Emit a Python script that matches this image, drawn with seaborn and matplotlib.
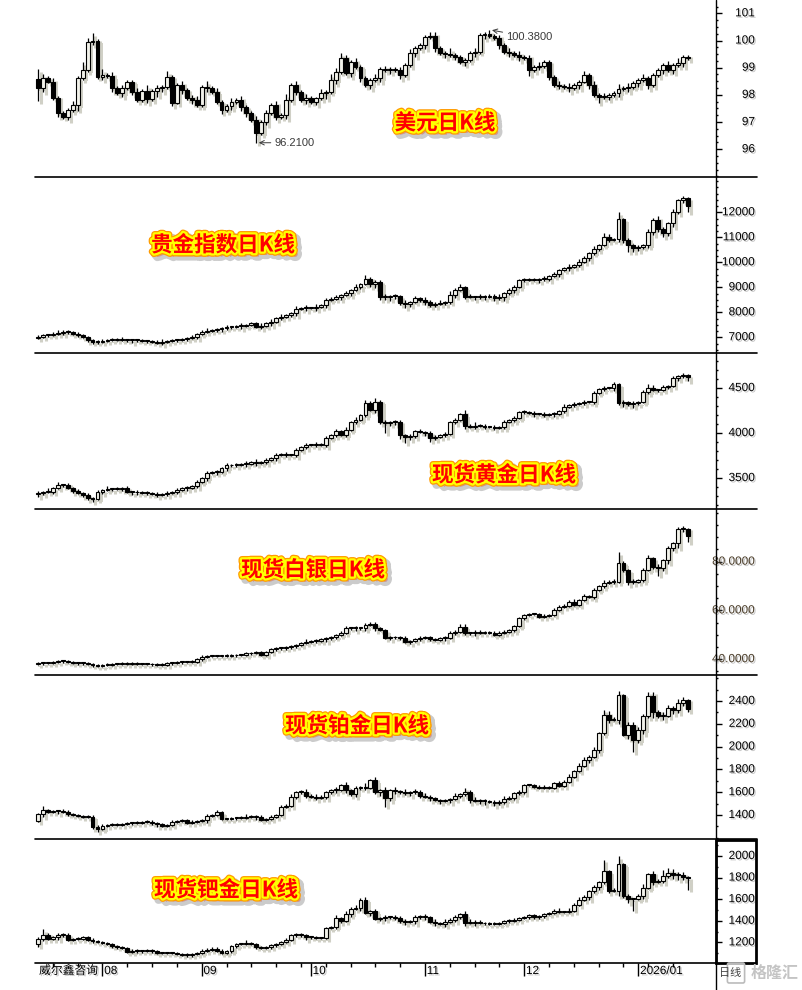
import numpy as np
import pandas as pd
import seaborn as sns
import matplotlib
matplotlib.use("Agg")
import matplotlib.pyplot as plt
from matplotlib import patheffects as pe
from matplotlib.lines import Line2D
from matplotlib.patches import Rectangle, FancyBboxPatch
from matplotlib.ticker import MultipleLocator
from matplotlib.transforms import ScaledTranslation, blended_transform_factory

sns.set_style("white")
plt.rcParams["font.family"] = ["Liberation Sans", "Noto Sans CJK SC", "DejaVu Sans"]

# ---- daily closes (open = previous close) ----
usd_open0 = 98.60
usd_close = [
    98.25, 98.61, 98.49, 97.90, 97.32, 97.20, 97.45, 97.63, 98.61, 98.92,
    99.96, 100.00, 98.67, 98.73, 98.70, 98.24, 98.06, 98.24, 98.49, 98.12,
    97.81, 98.15, 97.84, 98.15, 98.24, 98.30, 98.67, 97.72, 98.36, 98.18,
    97.87, 97.81, 97.63, 98.30, 98.24, 98.12, 97.75, 97.45, 97.60, 97.75,
    97.81, 97.54, 97.32, 97.08, 96.59, 97.02, 97.32, 97.63, 97.20, 97.25,
    97.81, 98.36, 98.12, 97.81, 97.90, 97.75, 97.87, 98.06, 98.12, 98.55,
    98.85, 99.34, 98.79, 99.22, 99.04, 98.61, 98.36, 98.55, 98.61, 98.94,
    98.92, 98.94, 98.90, 98.73, 99.10, 99.53, 99.71, 99.83, 100.14, 100.18,
    99.71, 99.53, 99.50, 99.47, 99.41, 99.22, 99.28, 99.53, 99.59, 100.20,
    100.24, 100.17, 100.08, 99.83, 99.59, 99.53, 99.47, 99.38, 99.34, 98.92,
    99.04, 99.06, 99.22, 98.67, 98.36, 98.34, 98.30, 98.24, 98.36, 98.49,
    98.73, 98.36, 98.00, 97.92, 97.94, 98.00, 98.06, 98.20, 98.24, 98.30,
    98.43, 98.55, 98.61, 98.36, 98.73, 98.92, 99.10, 98.92, 99.10, 99.16,
    99.41, 99.35,
]
usd_up = "5212111214 2413121211 2131213112 1221312112 1211212121 3121211213 2321211121 2112121112 2113111121 1212121212 1211121211 2121211312 1121111213 11"
usd_dn = "7211212131 1212121212 1121321212 1211211212 1221512121 2121212131 2112121212 1212112121 2121212121 2112121213 1212121212 1213121212 1212112121 21"

index_open0 = 6990
index_close = [
    7030, 7080, 7100, 7150, 7180, 7227, 7200, 7130, 7080, 7020,
    6900, 6800, 6830, 6870, 6890, 6910, 6920, 6900, 6880, 6900,
    6880, 6860, 6840, 6830, 6790, 6830, 6860, 6880, 6900, 6920,
    6980, 7030, 7130, 7230, 7270, 7280, 7330, 7360, 7400, 7420,
    7440, 7460, 7500, 7560, 7430, 7460, 7560, 7630, 7760, 7830,
    7880, 7960, 8150, 8160, 8180, 8170, 8230, 8290, 8490, 8550,
    8600, 8700, 8760, 8890, 9030, 9130, 9330, 9120, 9200, 8600,
    8620, 8650, 8640, 8380, 8330, 8420, 8560, 8500, 8430, 8300,
    8350, 8380, 8400, 8690, 8890, 9020, 8630, 8620, 8600, 8630,
    8610, 8640, 8560, 8620, 8760, 8890, 9030, 9300, 9330, 9310,
    9290, 9320, 9350, 9450, 9530, 9690, 9760, 9830, 9900, 10030,
    10160, 10360, 10550, 10700, 11030, 10900, 10920, 11720, 10890, 10700,
    10560, 10600, 10690, 11230, 11690, 11320, 11160, 11560, 12030, 12490,
    12560, 12250,
]
index_up = "1111211121 1111111211 1111121111 1111211121 1211121212 1121212121 2121213222 2121212121 1213221212 1222121111 1121211212 2121321612 1212232121 21"
index_dn = "1111121111 2111111112 1111121111 1121111211 1211121211 1121212121 1212121232 2322321232 2121212121 2121312121 1212121212 1212121226 3212323232 25"

gold_open0 = 3320
gold_close = [
    3330, 3348, 3350, 3385, 3422, 3425, 3393, 3356, 3330, 3311,
    3281, 3267, 3348, 3367, 3375, 3378, 3380, 3385, 3341, 3345,
    3340, 3335, 3330, 3320, 3311, 3320, 3335, 3348, 3367, 3385,
    3393, 3415, 3459, 3496, 3552, 3563, 3570, 3607, 3640, 3644,
    3648, 3652, 3660, 3681, 3663, 3681, 3700, 3718, 3755, 3763,
    3755, 3758, 3811, 3848, 3867, 3870, 3874, 3867, 3941, 3978,
    4022, 3978, 4033, 4126, 4144, 4200, 4330, 4256, 4348, 4126,
    4107, 4126, 4120, 3978, 3959, 3970, 4022, 4015, 3996, 3941,
    3959, 3980, 3985, 4126, 4144, 4207, 4081, 4070, 4081, 4075,
    4070, 4065, 4059, 4070, 4126, 4144, 4163, 4230, 4237, 4218,
    4207, 4215, 4200, 4210, 4207, 4244, 4293, 4311, 4319, 4330,
    4341, 4341, 4441, 4489, 4496, 4496, 4541, 4330, 4348, 4319,
    4330, 4341, 4452, 4504, 4478, 4478, 4515, 4526, 4607, 4637,
    4644, 4626,
]
gold_up = "2131312121 2121312121 2121212121 2121212121 2121312121 2121212121 2131313232 2122121212 2121214232 2121212121 2121212121 2121212121 2123212121 21"
gold_dn = "3212121212 2312121212 2121212121 2121212121 2121212121 2121212121 2121212132 9234632123 2121213121 2121212121 2121212121 2121212232 3212121212 24"

silver_open0 = 38.10
silver_close = [
    38.26, 38.40, 38.53, 38.94, 39.21, 39.10, 38.94, 38.53, 38.30, 38.26,
    37.98, 37.43, 37.30, 37.57, 37.80, 37.98, 38.10, 38.20, 38.26, 38.20,
    38.10, 37.98, 37.90, 37.84, 37.57, 37.80, 38.26, 38.50, 38.67, 38.80,
    38.94, 39.00, 39.90, 41.00, 41.20, 41.27, 41.30, 41.40, 41.45, 41.50,
    41.60, 41.68, 42.36, 42.64, 43.05, 41.68, 43.05, 44.00, 44.42, 44.42,
    44.83, 45.20, 45.78, 46.74, 47.15, 47.30, 47.43, 48.11, 48.52, 48.93,
    49.89, 50.85, 52.63, 52.70, 52.63, 52.70, 54.00, 54.27, 52.63, 51.95,
    48.80, 48.93, 48.90, 48.80, 47.15, 47.43, 48.11, 48.80, 48.93, 48.11,
    47.84, 48.52, 48.80, 50.58, 51.26, 53.31, 50.58, 50.60, 51.26, 50.85,
    50.90, 50.85, 49.89, 50.85, 51.26, 51.95, 53.59, 56.74, 58.11, 58.52,
    58.52, 57.42, 57.70, 58.11, 60.16, 61.53, 61.80, 63.58, 62.21, 64.27,
    65.91, 65.70, 68.38, 70.02, 71.39, 71.80, 71.80, 79.33, 76.59, 71.80,
    71.80, 72.48, 76.59, 81.38, 77.96, 77.27, 80.70, 85.49, 87.54, 93.29,
    93.43, 90.55,
]
silver_up = "1111111111 1111111111 1111111111 1111111111 1111111111 1111212111 1121212221 1111111111 1112122111 1111111111 1121212121 2121212921 2123121212 21"
silver_dn = "1111111111 1111111111 1111111111 1111111111 1111111111 1111111121 1111212121 1212121111 1121111121 1111112111 1111111111 1121212123 2121262324 25"

plat_open0 = 1350
plat_close = [
    1406, 1444, 1429, 1435, 1433, 1429, 1406, 1400, 1392, 1385,
    1385, 1298, 1277, 1306, 1312, 1318, 1315, 1322, 1327, 1330,
    1333, 1338, 1341, 1327, 1318, 1306, 1312, 1341, 1347, 1356,
    1333, 1341, 1347, 1356, 1394, 1400, 1423, 1365, 1365, 1371,
    1374, 1377, 1385, 1383, 1385, 1356, 1365, 1385, 1400, 1473,
    1482, 1561, 1599, 1605, 1570, 1561, 1552, 1561, 1599, 1619,
    1619, 1663, 1619, 1581, 1634, 1643, 1640, 1707, 1605, 1619,
    1546, 1619, 1610, 1605, 1590, 1599, 1605, 1570, 1561, 1546,
    1531, 1523, 1531, 1540, 1570, 1581, 1605, 1531, 1523, 1531,
    1523, 1517, 1502, 1517, 1540, 1552, 1590, 1605, 1663, 1663,
    1648, 1640, 1642, 1640, 1678, 1657, 1692, 1736, 1786, 1833,
    1882, 1912, 1970, 2116, 2277, 2233, 2235, 2453, 2102, 2189,
    2058, 2146, 2271, 2447, 2300, 2271, 2271, 2341, 2321, 2379,
    2409, 2330,
]
plat_up = "1311121111 1111111111 1111111111 1111112111 1121111111 1211212111 2121213121 2121212121 1111213121 1111211111 1121121212 2121432312 2213323213 21"
plat_dn = "1211211111 1221111111 1111211111 1111211111 1111211111 1121212121 2121212123 6222121212 1212121212 3121212121 1111111111 1212121313 9232423132 22"

pall_open0 = 1185
pall_close = [
    1235, 1266, 1235, 1247, 1266, 1272, 1225, 1230, 1235, 1247,
    1225, 1210, 1204, 1195, 1185, 1164, 1155, 1148, 1111, 1124,
    1117, 1120, 1124, 1117, 1102, 1102, 1102, 1100, 1093, 1087,
    1080, 1093, 1102, 1124, 1133, 1142, 1124, 1102, 1117, 1164,
    1185, 1185, 1195, 1185, 1155, 1148, 1155, 1173, 1185, 1204,
    1225, 1266, 1272, 1266, 1247, 1247, 1240, 1240, 1333, 1340,
    1426, 1401, 1463, 1512, 1519, 1596, 1472, 1488, 1420, 1426,
    1432, 1432, 1430, 1395, 1389, 1395, 1432, 1441, 1432, 1389,
    1380, 1370, 1389, 1411, 1432, 1463, 1380, 1380, 1382, 1378,
    1375, 1370, 1372, 1380, 1395, 1401, 1411, 1426, 1432, 1451,
    1432, 1441, 1463, 1472, 1494, 1482, 1482, 1494, 1550, 1596,
    1617, 1673, 1710, 1756, 1858, 1679, 1679, 1926, 1627, 1602,
    1602, 1627, 1704, 1833, 1759, 1772, 1812, 1843, 1827, 1827,
    1802, 1796,
]
pall_up = "1521211111 1111111111 1111111111 1111111111 1121111111 1111111111 2121212121 2121212121 2121212322 1111111111 1111121212 2121912612 1231215432 21"
pall_dn = "2211211111 1111111111 1111111111 1111111111 1111111111 1111211111 1212121212 2121212121 2121212121 1111111111 1111111111 1212121413 9121212134 29"

usd_ticks = [96, 97, 98, 99, 100, 101]
index_ticks = [7000, 8000, 9000, 10000, 11000, 12000]
gold_ticks = [3500, 4000, 4500]
silver_ticks = [40, 60, 80]
plat_ticks = [1400, 1600, 1800, 2000, 2200, 2400]
pall_ticks = [1200, 1400, 1600, 1800, 2000]

month_pos = [13, 33, 55, 78, 98, 121]
month_labels = ["08", "09", "10", "11", "12", "2026/01"]


def digits(s):
    return np.array([int(ch) for ch in s.replace(" ", "")])


def make_ohlc(open0, closes, up, dn, unit):
    close = np.array(closes, dtype=float)
    open_ = np.r_[open0, close[:-1]]
    high = np.maximum(open_, close) + digits(up) * unit
    low = np.minimum(open_, close) - digits(dn) * unit
    return pd.DataFrame({"open": open_, "high": high, "low": low, "close": close})


usd = make_ohlc(usd_open0, usd_close, usd_up, usd_dn, 0.07)
pmi = make_ohlc(index_open0, index_close, index_up, index_dn, 50)
gold = make_ohlc(gold_open0, gold_close, gold_up, gold_dn, 12)
silver = make_ohlc(silver_open0, silver_close, silver_up, silver_dn, 0.5)
plat = make_ohlc(plat_open0, plat_close, plat_up, plat_dn, 12)
pall = make_ohlc(pall_open0, pall_close, pall_up, pall_dn, 12)

W, H = 803, 990
X0, X1 = 35, 716
fig = plt.figure(figsize=(W / 100, H / 100), dpi=100)
fig.patch.set_facecolor("white")


def fx(px):
    return px / W


def fy(py):
    return 1 - py / H


txt_shadow = [pe.SimplePatchShadow(offset=(1, -1), shadow_rgbFace="#8a8a8a", alpha=0.5), pe.Normal()]
title_fx = [
    pe.Stroke(linewidth=6, foreground="#555555", alpha=0.3, offset=(2.5, -2.5)),
    pe.Stroke(linewidth=5, foreground="#ff9a00"),
    pe.Stroke(linewidth=3.2, foreground="#ffff00"),
    pe.Normal(),
]


def draw_candles(ax, df, ylim, panel_px):
    x = np.arange(len(df))
    o, h, l, c = (df[k].values for k in ("open", "high", "low", "close"))
    one_px = (ylim[1] - ylim[0]) / panel_px
    bottom = np.minimum(o, c)
    height = np.maximum(np.abs(c - o), one_px * 0.9)
    rise = c >= o
    sh = ax.transData + ScaledTranslation(2 / 72, -2 / 72, fig.dpi_scale_trans)
    shade = "#d0d0c6"
    ax.vlines(x, l, h, color=shade, lw=2.2, transform=sh, zorder=1)
    ax.bar(x, height, bottom=bottom, width=1.0, color=shade, lw=0, transform=sh, zorder=1)
    ax.vlines(x, l, h, color="black", lw=0.9, zorder=2)
    ax.bar(x[rise], height[rise], bottom=bottom[rise], width=0.78,
           color="#f2f2ea", edgecolor="black", lw=0.8, zorder=3)
    ax.bar(x[~rise], height[~rise], bottom=bottom[~rise], width=0.78,
           color="black", edgecolor="black", lw=0.8, zorder=3)


panels = [
    dict(df=usd, title="美元日K线", top=0, bottom=177, ylim=(94.98, 101.49), ticks=usd_ticks,
         fmt="{:.0f}", minor=0.25, tpos=(445, 123), color="black"),
    dict(df=pmi, title="贵金指数日K线", top=177, bottom=353, ylim=(6372, 13412), ticks=index_ticks,
         fmt="{:.0f}", minor=250, tpos=(223, 245), color="black"),
    dict(df=gold, title="现货黄金日K线", top=353, bottom=509, ylim=(3156, 4889), ticks=gold_ticks,
         fmt="{:.0f}", minor=100, tpos=(504, 475), color="black"),
    dict(df=silver, title="现货白银日K线", top=509, bottom=675, ylim=(33.5, 101.6), ticks=silver_ticks,
         fmt="{:.4f}", minor=5, tpos=(313, 570), color="#4a3c28"),
    dict(df=plat, title="现货铂金日K线", top=675, bottom=839, ylim=(1189.5, 2628), ticks=plat_ticks,
         fmt="{:.0f}", minor=100, tpos=(357, 726), color="black"),
    dict(df=pall, title="现货钯金日K线", top=839, bottom=963, ylim=(1009, 2157), ticks=pall_ticks,
         fmt="{:.0f}", minor=100, tpos=(226, 890), color="black"),
]

axes = []
for p in panels:
    top, bot = p["top"], p["bottom"]
    ax = fig.add_axes([fx(X0), fy(bot), fx(X1) - fx(X0), (bot - top) / H])
    ax.set_facecolor("none")
    ax.set_xlim(-0.6, 136.65)
    ax.set_ylim(*p["ylim"])
    for s in ax.spines.values():
        s.set_visible(False)
    draw_candles(ax, p["df"], p["ylim"], bot - top)

    ax.yaxis.tick_right()
    ax.set_yticks(p["ticks"])
    ax.yaxis.set_minor_locator(MultipleLocator(p["minor"]))
    ax.tick_params(axis="y", which="major", direction="out", length=4, width=1, color="black",
                   right=True, left=False, labelright=False, labelleft=False)
    ax.tick_params(axis="y", which="minor", direction="out", length=1.2, width=1, color="black",
                   right=True, left=False)
    ax.set_xticks([])

    ytr = blended_transform_factory(fig.transFigure, ax.transData)
    for t in p["ticks"]:
        ax.text(fx(755), t, p["fmt"].format(t), transform=ytr, ha="right", va="center",
                fontsize=8.5, color=p["color"], path_effects=txt_shadow, clip_on=False)

    fig.text(fx(p["tpos"][0]), fy(p["tpos"][1]), p["title"], ha="center", va="center",
             fontsize=15.5, fontweight="bold", color="#ff0000",
             family=["Noto Sans CJK SC", "DejaVu Sans"], path_effects=title_fx, zorder=10)
    axes.append(ax)

# extreme labels on the dollar panel
ax1 = axes[0]
lo_i = int(usd["low"].idxmin())
hi_i = int(usd["high"].idxmax())
arrow = dict(arrowstyle="->", lw=0.7, color="#3a3a3a", shrinkA=0, shrinkB=0)
ax1.annotate("96.2100", xy=(lo_i + 0.5, usd["low"][lo_i]), xytext=(11, 0), textcoords="offset points",
             ha="left", va="center", fontsize=8, color="#3a3a3a", arrowprops=arrow)
ax1.annotate("100.3800", xy=(hi_i + 0.5, usd["high"][hi_i]), xytext=(10, -5), textcoords="offset points",
             ha="left", va="center", fontsize=8, color="#3a3a3a", arrowprops=arrow)

# bottom date axis
ax6 = axes[-1]
ax6.set_xticks(month_pos)
ax6.set_xticks(np.arange(3, 132, 5), minor=True)
ax6.tick_params(axis="x", which="major", direction="out", length=9, width=1, color="black",
                bottom=True, labelbottom=False)
ax6.tick_params(axis="x", which="minor", direction="out", length=3, width=1, color="black", bottom=True)
xtr = blended_transform_factory(ax6.transData, fig.transFigure)
for pos, lab in zip(month_pos, month_labels):
    ax6.text(pos + 0.35, fy(971), lab, transform=xtr, ha="left", va="center", fontsize=8.5,
             color="black", path_effects=txt_shadow, clip_on=False)

# frame lines
for y in (177, 353, 509, 675, 839):
    fig.add_artist(Line2D([fx(X0), fx(757)], [fy(y), fy(y)], color="black", lw=1.2))
fig.add_artist(Line2D([fx(X0), fx(X1)], [fy(963), fy(963)], color="black", lw=1.2))
fig.add_artist(Line2D([fx(X1), fx(X1)], [fy(0), fy(990)], color="black", lw=1.0))
fig.add_artist(Rectangle((fx(716), fy(963)), fx(756) - fx(716), (963 - 840) / H,
                         fill=False, lw=2, ec="black"))

fig.text(fx(39), fy(971), "威尔鑫咨询", ha="left", va="center", fontsize=8.5, color="black",
         path_effects=txt_shadow, zorder=10)
fig.text(fx(719), fy(973), "日线", ha="left", va="center", fontsize=8, color="#444444")
fig.add_artist(FancyBboxPatch((fx(729), fy(981)), fx(14), 16 / H, boxstyle="round,pad=0.002",
                              fc=(1, 1, 1, 0.7), ec="#bbbbbb", lw=1.2))
fig.text(fx(775), fy(973), "格隆汇", ha="center", va="center", fontsize=11.5, fontweight="bold",
         color="#c4c4c4", family=["Noto Sans CJK SC", "DejaVu Sans"])

fig.savefig("out.png", dpi=100, facecolor="white")
